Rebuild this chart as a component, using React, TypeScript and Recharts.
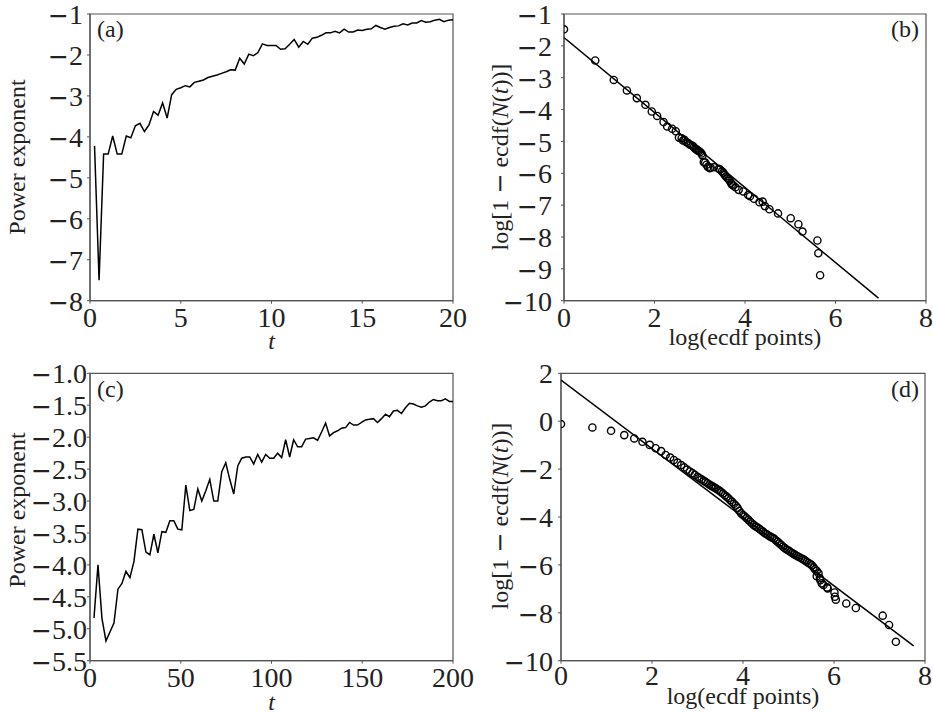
import React from 'react';
import { LineChart, Line, ScatterChart, Scatter, XAxis, YAxis, ReferenceArea } from 'recharts';

// ---------- Panel (a) ----------
const A_T = [0.25,0.5,0.75,1,1.25,1.5,1.75,2,2.25,2.5,2.75,3,3.25,3.5,3.75,4,4.25,4.5,4.75,5,5.25,5.5,5.75,6,6.25,6.5,6.75,7,7.25,7.5,7.75,8,8.25,8.5,8.75,9,9.25,9.5,9.75,10,10.25,10.5,10.75,11,11.25,11.5,11.75,12,12.25,12.5,12.75,13,13.25,13.5,13.75,14,14.25,14.5,14.75,15,15.25,15.5,15.75,16,16.25,16.5,16.75,17,17.25,17.5,17.75,18,18.25,18.5,18.75,19,19.25,19.5,19.75,20];
const A_V = [-4.22,-7.5,-4.42,-4.42,-3.98,-4.42,-4.42,-3.98,-4.02,-3.73,-3.67,-3.87,-3.71,-3.38,-3.47,-3.17,-3.54,-2.97,-2.84,-2.8,-2.75,-2.78,-2.67,-2.64,-2.61,-2.55,-2.52,-2.49,-2.45,-2.41,-2.36,-2.37,-2.08,-2.22,-1.98,-2.02,-1.94,-1.73,-1.77,-1.77,-1.77,-1.86,-1.85,-1.74,-1.62,-1.81,-1.67,-1.74,-1.59,-1.57,-1.52,-1.46,-1.46,-1.42,-1.46,-1.37,-1.44,-1.44,-1.39,-1.4,-1.37,-1.36,-1.28,-1.33,-1.37,-1.33,-1.3,-1.29,-1.24,-1.27,-1.22,-1.22,-1.16,-1.2,-1.19,-1.15,-1.13,-1.19,-1.15,-1.14];
const A_XTICKS = [0, 5, 10, 15, 20];
const A_YTICKS = [-8, -7, -6, -5, -4, -3, -2, -1];

// ---------- Panel (b) ----------
const B_X = [0,0.69,1.10,1.39,1.61,1.80,1.94,2.06,2.20,2.28,2.39,2.47,2.54,2.60,2.63,2.66,2.70,2.74,2.77,2.80,2.84,2.87,2.90,2.93,2.95,2.98,3.01,3.04,3.06,3.09,3.12,3.15,3.18,3.22,3.24,3.31,3.42,3.45,3.49,3.52,3.55,3.58,3.61,3.64,3.66,3.69,3.71,3.74,3.79,3.86,3.96,4.07,4.11,4.20,4.32,4.39,4.44,4.54,4.73,5.01,5.18,5.27,5.60,5.62,5.66];
const B_Y = [-1.48,-2.46,-3.07,-3.40,-3.64,-3.85,-4.06,-4.20,-4.39,-4.53,-4.60,-4.68,-4.88,-4.90,-4.97,-4.95,-5.02,-5.05,-5.09,-5.11,-5.14,-5.18,-5.23,-5.25,-5.28,-5.30,-5.33,-5.38,-5.44,-5.65,-5.66,-5.73,-5.80,-5.84,-5.82,-5.81,-5.86,-5.88,-5.94,-5.98,-6.05,-6.10,-6.15,-6.18,-6.23,-6.30,-6.35,-6.38,-6.44,-6.52,-6.57,-6.68,-6.72,-6.80,-6.91,-6.89,-7.03,-7.13,-7.26,-7.41,-7.60,-7.83,-8.11,-8.51,-9.20];
const B_FIT_X = [0, 6.95];
const B_FIT_Y = [-1.74, -9.92];
const B_XTICKS = [0, 2, 4, 6, 8];
const B_YTICKS = [-10, -9, -8, -7, -6, -5, -4, -3, -2, -1];

// ---------- Panel (c) ----------
const C_T = [2.2,4.4,6.6,8.8,11,13.2,15.4,17.6,19.8,22,24.2,26.4,28.6,30.8,33,35.2,37.4,39.6,41.8,44,46.2,48.4,50.6,52.8,55,57.2,59.4,61.6,63.8,66,68.2,70.4,72.6,74.8,77,79.2,81.4,83.6,85.8,88,90.2,92.4,94.6,96.8,99,101.2,103.4,105.6,107.8,110,112.2,114.4,116.6,118.8,121,123.2,125.4,127.6,129.8,132,134.2,136.4,138.6,140.8,143,145.2,147.4,149.6,151.8,154,156.2,158.4,160.6,162.8,165,167.2,169.4,171.6,173.8,176,178.2,180.4,182.6,184.8,187,189.2,191.4,193.6,195.8,198,200.2];
const C_V = [-4.83,-4.0,-4.84,-5.19,-5.05,-4.91,-4.38,-4.29,-4.1,-4.2,-3.95,-3.44,-3.45,-3.8,-3.84,-3.52,-3.81,-3.48,-3.49,-3.31,-3.31,-3.44,-3.45,-2.75,-3.15,-3.13,-2.81,-3.0,-2.84,-2.66,-3.0,-3.0,-2.54,-2.4,-2.66,-2.89,-2.45,-2.33,-2.31,-2.31,-2.42,-2.27,-2.39,-2.27,-2.33,-2.33,-2.25,-2.32,-2.04,-2.31,-2.04,-2.15,-2.15,-2.03,-2.02,-2.01,-2.05,-1.92,-1.78,-1.98,-1.93,-1.9,-1.86,-1.85,-1.77,-1.81,-1.81,-1.77,-1.73,-1.72,-1.71,-1.77,-1.71,-1.64,-1.68,-1.59,-1.58,-1.63,-1.54,-1.47,-1.48,-1.51,-1.53,-1.51,-1.45,-1.41,-1.43,-1.43,-1.4,-1.44,-1.44];
const C_XTICKS = [0, 50, 100, 150, 200];
const C_YTICKS = [-5.5, -5, -4.5, -4, -3.5, -3, -2.5, -2, -1.5, -1];

// ---------- Panel (d) ----------
const D_X = [0,0.69,1.10,1.39,1.61,1.79,1.95,2.08,2.20,2.30,2.40,2.48,2.56,2.64,2.71,2.77,2.83,2.89,2.94,3.00,3.04,3.09,3.14,3.18,3.22,3.26,3.30,3.33,3.37,3.40,3.44,3.48,3.52,3.56,3.60,3.64,3.68,3.72,3.76,3.80,3.84,3.88,3.92,3.96,4.00,4.04,4.08,4.12,4.16,4.20,4.24,4.28,4.32,4.36,4.40,4.44,4.48,4.52,4.56,4.60,4.64,4.68,4.72,4.76,4.80,4.84,4.88,4.92,4.96,5.00,5.04,5.08,5.12,5.16,5.20,5.24,5.28,5.32,5.36,5.40,5.44,5.48,5.51,5.55,5.58,5.62,5.62,5.66,5.69,5.70,5.73,5.77,5.85,5.86,6.01,6.02,6.04,6.27,6.48,7.07,7.21,7.36];
const D_Y = [-0.12,-0.26,-0.40,-0.58,-0.72,-0.86,-0.99,-1.13,-1.25,-1.41,-1.52,-1.62,-1.73,-1.83,-1.93,-2.02,-2.10,-2.17,-2.24,-2.32,-2.37,-2.43,-2.49,-2.54,-2.59,-2.64,-2.69,-2.72,-2.77,-2.80,-2.85,-2.90,-2.96,-3.02,-3.09,-3.15,-3.22,-3.30,-3.37,-3.45,-3.52,-3.62,-3.75,-3.85,-3.92,-3.98,-4.05,-4.12,-4.20,-4.27,-4.34,-4.40,-4.44,-4.49,-4.55,-4.61,-4.68,-4.72,-4.77,-4.82,-4.86,-4.90,-4.97,-5.03,-5.10,-5.17,-5.24,-5.30,-5.36,-5.40,-5.45,-5.50,-5.55,-5.60,-5.64,-5.68,-5.72,-5.76,-5.81,-5.87,-5.92,-5.96,-6.01,-6.10,-6.18,-6.25,-6.47,-6.35,-6.56,-6.64,-6.77,-6.84,-6.94,-6.98,-7.15,-7.33,-7.45,-7.61,-7.80,-8.12,-8.51,-9.21];
const D_FIT_X = [0, 7.75];
const D_FIT_Y = [1.72, -9.38];
const D_XTICKS = [0, 2, 4, 6, 8];
const D_YTICKS = [-10, -8, -6, -4, -2, 0, 2];

// ---------- styling ----------
const W = 933;
const H = 714;
const SERIF = "'Liberation Serif', 'Times New Roman', serif";
const TEXT = '#222';
const AXIS = '#555';
const TICK_FS = 28;
const LABEL_FS = 24;

const zip = (xs: number[], ys: number[]) => xs.map((x, i) => ({ x, y: ys[i] }));

const makeTick = (orient: 'x' | 'y', decimals: number) => (props: any) => {
  const { x, y, payload } = props;
  const v = Number(payload.value);
  const neg = v < 0;
  const body = Math.abs(v).toFixed(decimals);
  return (
    <text
      x={x}
      y={y}
      dy={orient === 'x' ? '0.71em' : '0.36em'}
      textAnchor={orient === 'x' ? 'middle' : 'end'}
      fontSize={TICK_FS}
      fontFamily={SERIF}
      fill={TEXT}
    >
      {neg && <tspan fontFamily="'DejaVu Sans', sans-serif" fontSize={25}>{'\u2212'}</tspan>}
      {body}
    </text>
  );
};

const yTitle = (cx: number, cy: number, content: React.ReactNode) => ({
  content: () => (
    <text
      transform={`translate(${cx},${cy}) rotate(-90)`}
      textAnchor="middle"
      dominantBaseline="central"
      fontSize={LABEL_FS}
      fontFamily={SERIF}
      fill={TEXT}
    >
      {content}
    </text>
  ),
});

const xTitle = (cx: number, baseline: number, content: React.ReactNode) => ({
  content: () => (
    <text x={cx} y={baseline} textAnchor="middle" fontSize={LABEL_FS} fontFamily={SERIF} fill={TEXT}>
      {content}
    </text>
  ),
});

const ecdfLabel = (
  <>
    log[1 <tspan fontFamily="'DejaVu Sans', sans-serif">{'\u2212'}</tspan> ecdf(
    <tspan fontStyle="italic">N</tspan>(<tspan fontStyle="italic">t</tspan>))]
  </>
);

const Circle = (props: any) => (
  <circle cx={props.cx} cy={props.cy} r={3.6} fill="none" stroke="#000" strokeWidth={1.4} />
);
const Nothing = () => <g />;

const layer: React.CSSProperties = { position: 'absolute', left: 0, top: 0, width: W, height: H };

const axisLine = { stroke: AXIS, strokeWidth: 1.2 };
const tickLine = { stroke: AXIS, strokeWidth: 1 };

function PanelA() {
  const data = A_T.map((t, i) => ({ t, v: A_V[i] }));
  return (
    <div style={layer}>
      <LineChart width={W} height={H} data={data} margin={{ top: 14, right: 480, left: 30, bottom: 373.3 }}>
        <XAxis type="number" dataKey="t" domain={[0, 20]} ticks={A_XTICKS} allowDataOverflow height={40}
          axisLine={axisLine} tickLine={tickLine} tickSize={3} tickMargin={3} tick={makeTick('x', 0)}
          label={xTitle(271.5, 349, <tspan fontStyle="italic">t</tspan>)} />
        <YAxis type="number" domain={[-8, -1]} ticks={A_YTICKS} allowDataOverflow width={60}
          axisLine={axisLine} tickLine={tickLine} tickSize={3} tickMargin={4} tick={makeTick('y', 0)}
          label={yTitle(17, 157, 'Power exponent')} />
        <ReferenceArea x1={0} x2={20} y1={-8} y2={-1} fill="none" stroke={AXIS} strokeWidth={1.2} fillOpacity={0} />
        <Line type="linear" dataKey="v" stroke="#000" strokeWidth={1.5} dot={false} isAnimationActive={false} />
      </LineChart>
    </div>
  );
}

function PanelC() {
  const data = C_T.map((t, i) => ({ t, v: C_V[i] }));
  return (
    <div style={layer}>
      <LineChart width={W} height={H} data={data} margin={{ top: 373.3, right: 480, left: 30, bottom: 13.3 }}>
        <XAxis type="number" dataKey="t" domain={[0, 200]} ticks={C_XTICKS} allowDataOverflow height={40}
          axisLine={axisLine} tickLine={tickLine} tickSize={3} tickMargin={3} tick={makeTick('x', 0)}
          label={xTitle(271.5, 710, <tspan fontStyle="italic">t</tspan>)} />
        <YAxis type="number" domain={[-5.5, -1]} ticks={C_YTICKS} allowDataOverflow width={60}
          axisLine={axisLine} tickLine={tickLine} tickSize={3} tickMargin={0} tick={makeTick('y', 1)}
          label={yTitle(17, 510, 'Power exponent')} />
        <ReferenceArea x1={0} x2={200} y1={-5.5} y2={-1} fill="none" stroke={AXIS} strokeWidth={1.2} fillOpacity={0} />
        <Line type="linear" dataKey="v" stroke="#000" strokeWidth={1.5} dot={false} isAnimationActive={false} />
      </LineChart>
    </div>
  );
}

function PanelB() {
  return (
    <div style={layer}>
      <ScatterChart width={W} height={H} margin={{ top: 14, right: 7, left: 504, bottom: 373.3 }}>
        <XAxis type="number" dataKey="x" domain={[0, 8]} ticks={B_XTICKS} allowDataOverflow height={40}
          axisLine={axisLine} tickLine={tickLine} tickSize={3} tickMargin={3} tick={makeTick('x', 0)}
          label={xTitle(745, 345, 'log(ecdf points)')} />
        <YAxis type="number" dataKey="y" domain={[-10, -1]} ticks={B_YTICKS} allowDataOverflow width={60}
          axisLine={axisLine} tickLine={tickLine} tickSize={3} tickMargin={9} tick={makeTick('y', 0)}
          label={yTitle(500, 157, ecdfLabel)} />
        <ReferenceArea x1={0} x2={8} y1={-10} y2={-1} fill="none" stroke={AXIS} strokeWidth={1.2} fillOpacity={0} />
        <Scatter data={zip(B_FIT_X, B_FIT_Y)} line={{ stroke: '#000', strokeWidth: 1.5 }} shape={Nothing} isAnimationActive={false} />
        <Scatter data={zip(B_X, B_Y)} shape={Circle} isAnimationActive={false} />
      </ScatterChart>
    </div>
  );
}

function PanelD() {
  return (
    <div style={layer}>
      <ScatterChart width={W} height={H} margin={{ top: 373.3, right: 8, left: 501, bottom: 13.3 }}>
        <XAxis type="number" dataKey="x" domain={[0, 8]} ticks={D_XTICKS} allowDataOverflow height={40}
          axisLine={axisLine} tickLine={tickLine} tickSize={3} tickMargin={1} tick={makeTick('x', 0)}
          label={xTitle(743, 704, 'log(ecdf points)')} />
        <YAxis type="number" dataKey="y" domain={[-10, 2]} ticks={D_YTICKS} allowDataOverflow width={60}
          axisLine={axisLine} tickLine={tickLine} tickSize={3} tickMargin={5} tick={makeTick('y', 0)}
          label={yTitle(500, 516, ecdfLabel)} />
        <ReferenceArea x1={0} x2={8} y1={-10} y2={2} fill="none" stroke={AXIS} strokeWidth={1.2} fillOpacity={0} />
        <Scatter data={zip(D_FIT_X, D_FIT_Y)} line={{ stroke: '#000', strokeWidth: 1.5 }} shape={Nothing} isAnimationActive={false} />
        <Scatter data={zip(D_X, D_Y)} shape={Circle} isAnimationActive={false} />
      </ScatterChart>
    </div>
  );
}

function Tags() {
  const common = { fontSize: LABEL_FS, fontFamily: SERIF, fill: TEXT };
  return (
    <svg style={{ ...layer, pointerEvents: 'none' }} width={W} height={H}>
      <text x={97} y={37} {...common}>(a)</text>
      <text x={919} y={37} textAnchor="end" {...common}>(b)</text>
      <text x={97} y={397} {...common}>(c)</text>
      <text x={919} y={397} textAnchor="end" {...common}>(d)</text>
    </svg>
  );
}

export default function App() {
  return (
    <div style={{ ...layer, background: '#fff' }}>
      <PanelA />
      <PanelB />
      <PanelC />
      <PanelD />
      <Tags />
    </div>
  );
}
